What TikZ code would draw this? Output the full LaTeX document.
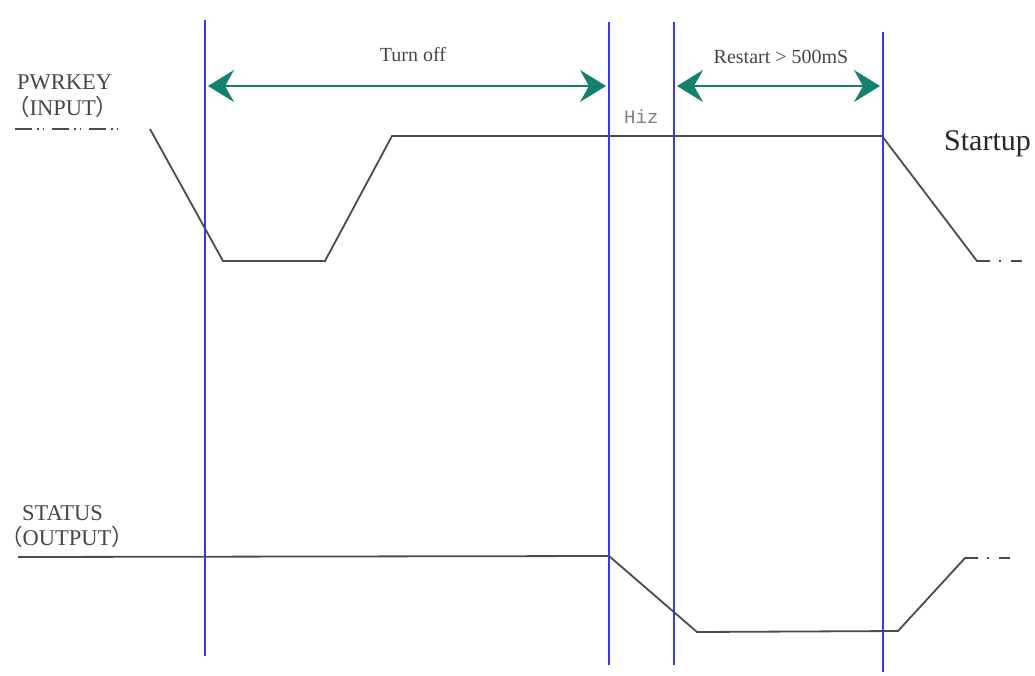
\documentclass[tikz,border=0pt]{standalone}
\usepackage{fontspec}
\setmainfont{Liberation Serif}
\newfontfamily\cjk{Noto Sans CJK SC}
\newfontfamily\monof{Liberation Mono}
\usetikzlibrary{arrows.meta}
\definecolor{sig}{RGB}{75,75,75}
\definecolor{vline}{RGB}{55,55,250}
\definecolor{teal2}{RGB}{20,128,112}
\definecolor{txt}{RGB}{70,70,70}
\tikzset{
  signal/.style={draw=sig, line width=1.8pt, line join=miter},
  ddot/.style={draw=sig, line width=1.8pt, dash pattern=on 17pt off 5pt on 1.5pt off 4pt on 1.5pt off 8pt},
  marker/.style={draw=vline, line width=2.2pt},
  span/.style={draw=teal2, line width=1.6pt, {Stealth[length=26pt,width=32pt,inset=9pt]}-{Stealth[length=26pt,width=32pt,inset=9pt]}},
  lbl/.style={inner sep=0pt, text=txt, anchor=base west},
  sigfont/.style={font=\fontsize{22.5}{22.5}\selectfont},
}
\begin{document}
\begin{tikzpicture}[x=1pt,y=-1pt]
\useasboundingbox (0,0) rectangle (1035,675);
% vertical markers
\draw[marker] (205,20) coordinate (v1t) -- (205,656) coordinate (v1b);
\draw[marker] (609,22) coordinate (v2t) -- (609,665) coordinate (v2b);
\draw[marker] (674,22) coordinate (v3t) -- (674,665) coordinate (v3b);
\draw[marker] (883,32) coordinate (v4t) -- (883,672) coordinate (v4b);
% labels
\node[lbl, sigfont] (pk) at (17,89) {PWRKEY};
\node[lbl, sigfont] (pki) at (7,115) {{\cjk （}INPUT{\cjk ）}};
\node[lbl, sigfont] (st) at (22,520) {STATUS};
\node[lbl, sigfont] (sto) at (0,545) {{\cjk （}OUTPUT{\cjk ）}};
\node[inner sep=0pt, text=txt, anchor=base, font=\fontsize{20}{20}\selectfont] (toff) at (413,61) {Turn off};
\node[inner sep=0pt, text=txt, anchor=base, font=\fontsize{20}{20}\selectfont] (rst) at (781,63) {Restart > 500mS};
\node[lbl, font=\monof\fontsize{19}{19}\selectfont, text=gray] (hiz) at (624,123) {Hiz};
\node[inner sep=0pt, anchor=base west, text=black!85, font=\fontsize{30}{30}\selectfont] (sup) at (944,150) {Startup};
% spans
\coordinate (a1) at (208,86);
\coordinate (a2) at (606,86);
\coordinate (b1) at (677,86);
\coordinate (b2) at (880,86);
\draw[span] (a1) -- (a2);
\draw[span] (b1) -- (b2);
% PWRKEY signal
\draw[ddot] (15,129) -- (122,129);
\draw[signal] (150,129) -- (223,261) -- (325,261) -- (392,136) -- (882,136) -- (977,261) -- (990,261);
\draw[signal] (999,261) -- (1001,261);
\draw[signal] (1011,261) -- (1022,261);
% STATUS signal
\draw[signal] (18,557) -- (609,556) -- (697,632) -- (898,631) -- (965,558) -- (978,558);
\draw[signal] (987,558) -- (989,558);
\draw[signal] (999,558) -- (1010,558);
\end{tikzpicture}
\end{document}
